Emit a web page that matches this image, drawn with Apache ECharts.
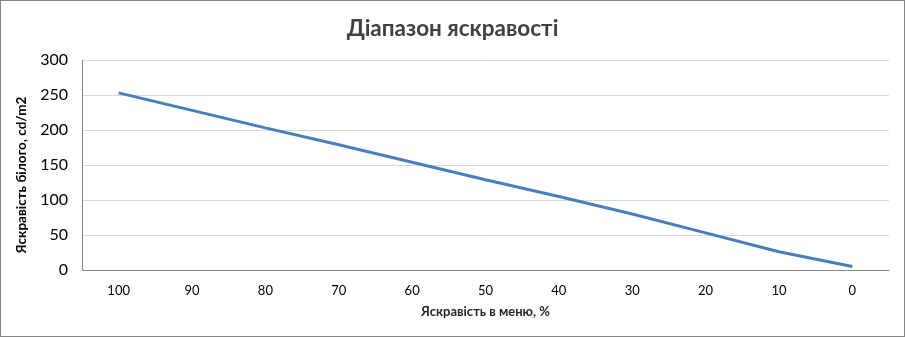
<!DOCTYPE html>
<html><head><meta charset="utf-8">
<script src="https://cdn.jsdelivr.net/npm/echarts@6/dist/echarts.min.js"></script>
<style>html,body{margin:0;padding:0;background:#fff}#c{width:905px;height:337px;box-sizing:border-box;border:1px solid #868686}</style>
</head><body><div id="c"></div>
<script>
const titleText = 'Діапазон яскравості';
const xName = 'Яскравість в меню, %';
const yName = 'Яскравість білого, cd/m2';
const categories = ['100','90','80','70','60','50','40','30','20','10','0'];
const values = [253, 228, 203, 179, 154, 129, 105, 80, 53, 26, 5];
const yMin = 0, yMax = 300, yStep = 50;

const chart = echarts.init(document.getElementById('c'), null, {renderer:'canvas'});
chart.setOption({
  animation:false,
  title:{text:titleText,left:'center',top:11,textStyle:{fontFamily:'Lato, "Open Sans", sans-serif',fontWeight:'bold',fontSize:22.5,color:'#404040'}},
  grid:{left:81,right:15,top:59,bottom:66,containLabel:false},
  xAxis:{type:'category',data:categories,boundaryGap:true,
    name:xName,nameLocation:'middle',nameGap:35,
    nameTextStyle:{fontFamily:'Lato, "Open Sans", sans-serif',fontWeight:'bold',fontSize:13,color:'#262626'},
    axisLine:{lineStyle:{color:'#868686',width:1}},axisTick:{show:false},
    axisLabel:{fontFamily:'Lato, "Open Sans", sans-serif',fontSize:13,color:'#000',margin:14}},
  yAxis:{type:'value',min:yMin,max:yMax,interval:yStep,
    name:yName,nameLocation:'middle',nameGap:53,nameRotate:90,
    nameTextStyle:{fontFamily:'Lato, "Open Sans", sans-serif',fontWeight:'bold',fontSize:13.5,color:'#000',padding:[0,20,0,0]},
    axisLine:{show:true,lineStyle:{color:'#868686',width:1}},axisTick:{show:false},
    splitLine:{lineStyle:{color:'#d9d9d9',width:1}},
    axisLabel:{fontFamily:'Lato, "Open Sans", sans-serif',fontSize:16,color:'#000',margin:14}},
  series:[{type:'line',data:values,symbol:'none',smooth:false,lineStyle:{color:'#4a7ebb',width:3}}]
});
</script></body></html>
